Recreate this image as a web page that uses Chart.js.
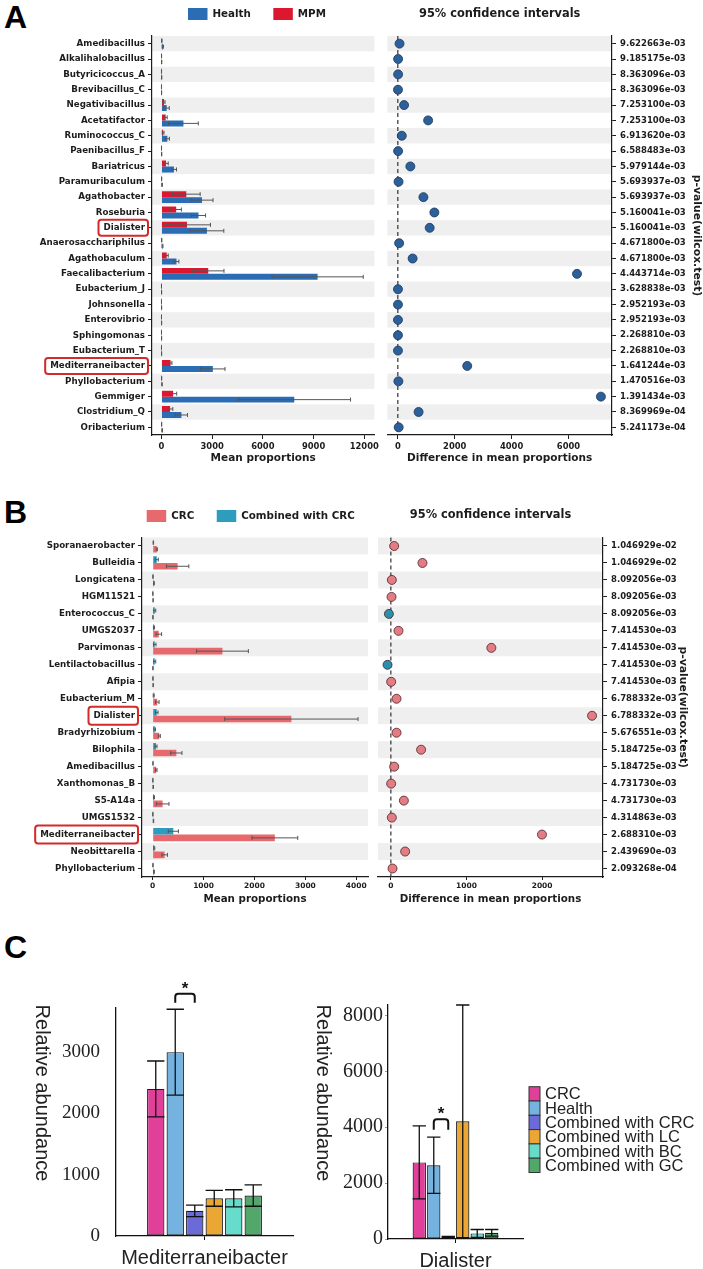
<!DOCTYPE html>
<html>
<head>
<meta charset="utf-8">
<title>Figura</title>
<script src="https://cdn.jsdelivr.net/npm/chart.js@4.4.1/dist/chart.umd.min.js"></script>
<style>
  html, body { margin: 0; padding: 0; background: #fff; }
  #fig { position: relative; width: 703px; height: 1269px; overflow: hidden; }
  #fig canvas { position: absolute; }
  .letra { position: absolute; font: bold 32px "Liberation Sans", Arial, sans-serif; line-height: 1; color: #000; }
</style>
</head>
<body>
<div id="fig">
  <div class="letra" style="left:4px;top:1px">A</div>
  <div class="letra" style="left:4px;top:496px">B</div>
  <div class="letra" style="left:4px;top:931px">C</div>
  <canvas id="aBarras" width="382" height="470" style="left:0;top:0"></canvas>
  <canvas id="aDif" width="321" height="470" style="left:382px;top:0"></canvas>
  <canvas id="bBarras" width="372" height="422" style="left:0;top:490px"></canvas>
  <canvas id="bDif" width="331" height="422" style="left:372px;top:490px"></canvas>
  <canvas id="cMedi" width="300" height="309" style="left:0;top:960px"></canvas>
  <canvas id="cDial" width="413" height="309" style="left:290px;top:960px"></canvas>
</div>
<script>
// ---------- datos panel A (Health vs MPM) ----------
const taxaA = ['Amedibacillus', 'Alkalihalobacillus', 'Butyricicoccus_A', 'Brevibacillus_C', 'Negativibacillus',
  'Acetatifactor', 'Ruminococcus_C', 'Paenibacillus_F', 'Bariatricus', 'Paramuribaculum', 'Agathobacter',
  'Roseburia', 'Dialister', 'Anaerosacchariphilus', 'Agathobaculum', 'Faecalibacterium', 'Eubacterium_J',
  'Johnsonella', 'Enterovibrio', 'Sphingomonas', 'Eubacterium_T', 'Mediterraneibacter', 'Phyllobacterium',
  'Gemmiger', 'Clostridium_Q', 'Oribacterium'];
const healthA    = [80, 12, 12, 8, 310, 1300, 350, 12, 740, 35, 2400, 2190, 2690, 60, 890, 9240, 8, 8, 8, 8, 8, 3040, 30, 7860, 1180, 40];
const healthErrA = [40, 8, 8, 5, 150, 880, 120, 8, 150, 20, 650, 420, 1000, 30, 140, 2700, 5, 5, 5, 5, 5, 720, 15, 3330, 360, 20];
const mpmA       = [20, 5, 3, 3, 150, 250, 100, 3, 270, 10, 1470, 870, 1510, 15, 310, 2770, 2, 2, 2, 2, 2, 540, 10, 690, 510, 10];
const mpmErrA    = [15, 3, 2, 2, 60, 90, 50, 2, 130, 5, 820, 310, 1390, 10, 90, 930, 1, 1, 1, 1, 1, 80, 5, 210, 160, 5];
const difA       = [60, 10, 10, 5, 220, 1065, 140, 10, 440, 25, 900, 1285, 1120, 46, 520, 6300, 5, 5, 5, 5, 5, 2440, 20, 7140, 730, 30];
const pvalA = ['9.622663e-03', '9.185175e-03', '8.363096e-03', '8.363096e-03', '7.253100e-03', '7.253100e-03',
  '6.913620e-03', '6.588483e-03', '5.979144e-03', '5.693937e-03', '5.693937e-03', '5.160041e-03', '5.160041e-03',
  '4.671800e-03', '4.671800e-03', '4.443714e-03', '3.628838e-03', '2.952193e-03', '2.952193e-03', '2.268810e-03',
  '2.268810e-03', '1.641244e-03', '1.470516e-03', '1.391434e-03', '8.369969e-04', '5.241173e-04'];
const ticksMediaA = [0, 3000, 6000, 9000, 12000];
const ticksDifA = [0, 2000, 4000, 6000];

// ---------- datos panel B (CRC vs Combined with CRC) ----------
const taxaB = ['Sporanaerobacter', 'Bulleidia', 'Longicatena', 'HGM11521', 'Enterococcus_C', 'UMGS2037',
  'Parvimonas', 'Lentilactobacillus', 'Afipia', 'Eubacterium_M', 'Dialister', 'Bradyrhizobium', 'Bilophila',
  'Amedibacillus', 'Xanthomonas_B', 'S5-A14a', 'UMGS1532', 'Mediterraneibacter', 'Neobittarella', 'Phyllobacterium'];
const combB    = [13, 80, 5, 3, 40, 25, 40, 40, 5, 20, 80, 40, 65, 5, 3, 25, 3, 405, 30, 5];
const combErrB = [5, 30, 3, 2, 20, 10, 25, 20, 3, 10, 25, 15, 20, 3, 2, 10, 2, 100, 10, 3];
const crcB     = [80, 490, 25, 8, 5, 120, 1370, 5, 10, 90, 2725, 130, 465, 70, 10, 195, 15, 2400, 235, 25];
const crcErrB  = [12, 220, 8, 3, 3, 55, 510, 3, 5, 35, 1310, 20, 110, 15, 5, 125, 5, 450, 55, 8];
const difB     = [44, 418, 13, 9, -26, 101, 1329, -44, 4, 75, 2660, 75, 400, 44, 4, 172, 13, 1998, 189, 22];
const pvalB = ['1.046929e-02', '1.046929e-02', '8.092056e-03', '8.092056e-03', '8.092056e-03', '7.414530e-03',
  '7.414530e-03', '7.414530e-03', '7.414530e-03', '6.788332e-03', '6.788332e-03', '5.676551e-03', '5.184725e-03',
  '5.184725e-03', '4.731730e-03', '4.731730e-03', '4.314863e-03', '2.688310e-03', '2.439690e-03', '2.093268e-04'];
const ticksMediaB = [0, 1000, 2000, 3000, 4000];
const ticksDifB = [0, 1000, 2000];

// ---------- datos panel C ----------
const gruposC = ['CRC', 'Health', 'Combined with CRC', 'Combined with LC', 'Combined with BC', 'Combined with GC'];
const mediMedia = [2400, 3000, 410, 615, 615, 660];
const mediDE    = [455, 700, 95, 130, 140, 175];
const dialMedia = [2740, 2640, 70, 4210, 200, 220];
const dialDE    = [1305, 1005, 25, 4160, 140, 120];
const ticksMedi = [0, 1000, 2000, 3000];
const ticksDial = [0, 2000, 4000, 6000, 8000];

const coloresC = ['#e0409a', '#74b2df', '#6a6ad8', '#eba633', '#66dccb', '#52a86a'];
const NEGRO = '#1c1c1c';

Chart.defaults.font.family = '"DejaVu Sans", sans-serif';
Chart.defaults.color = NEGRO;
Chart.defaults.animation = false;

const fuenteB = size => ({ family: '"DejaVu Sans"', size: size, weight: 'bold' });

// franjas grises alternas
const franjas = {
  id: 'franjas',
  beforeDraw(chart) {
    const { ctx, chartArea: a, scales: { y } } = chart;
    const n = y.getLabels().length;
    const h = a.height / n;
    ctx.save();
    ctx.fillStyle = '#efefef';
    for (let i = 0; i < n; i += 2) {
      const c = y.getPixelForValue(i);
      ctx.fillRect(a.left, c - h / 2, a.width, h);
    }
    ctx.restore();
  }
};

// barras de error (horizontales o verticales)
const barrasError = {
  id: 'barrasError',
  afterDatasetsDraw(chart, args, o) {
    const ctx = chart.ctx;
    const horiz = chart.options.indexAxis === 'y';
    const escala = horiz ? chart.scales.x : chart.scales.y;
    chart.data.datasets.forEach((ds, i) => {
      if (!ds.errores) return;
      const meta = chart.getDatasetMeta(i);
      ctx.save();
      ctx.strokeStyle = o.color || '#555';
      ctx.lineWidth = o.width || 1;
      meta.data.forEach((el, j) => {
        const v = ds.data[j], e = ds.errores[j];
        const lo = escala.getPixelForValue(v - e);
        const hi = escala.getPixelForValue(v + e);
        ctx.beginPath();
        if (horiz) {
          const c = o.cap || 2;
          ctx.moveTo(lo, el.y); ctx.lineTo(hi, el.y);
          ctx.moveTo(lo, el.y - c); ctx.lineTo(lo, el.y + c);
          ctx.moveTo(hi, el.y - c); ctx.lineTo(hi, el.y + c);
        } else {
          const c = el.width / 2;
          ctx.moveTo(el.x, lo); ctx.lineTo(el.x, hi);
          ctx.moveTo(el.x - c, lo); ctx.lineTo(el.x + c, lo);
          ctx.moveTo(el.x - c, hi); ctx.lineTo(el.x + c, hi);
        }
        ctx.stroke();
      });
      ctx.restore();
    });
  }
};

// recuadro rojo sobre etiquetas destacadas
const recuadros = {
  id: 'recuadros',
  afterDraw(chart, args, o) {
    if (!o.nombres) return;
    const { ctx, scales: { y } } = chart;
    ctx.save();
    ctx.font = o.font;
    ctx.strokeStyle = '#d42a2a';
    ctx.lineWidth = 2;
    const der = chart.chartArea.left - 7;
    o.nombres.forEach(n => {
      const i = y.getLabels().indexOf(n);
      if (i < 0) return;
      const yc = y.getPixelForValue(i);
      const w = ctx.measureText(n).width;
      ctx.beginPath();
      if (ctx.roundRect) ctx.roundRect(der - w - 5, yc - o.alto / 2, w + 8, o.alto, 3);
      else ctx.rect(der - w - 5, yc - o.alto / 2, w + 8, o.alto);
      ctx.stroke();
    });
    ctx.restore();
  }
};

// leyenda superior de A y B
const leyendaSup = {
  id: 'leyendaSup',
  afterDraw(chart, args, o) {
    if (!o.items) return;
    const ctx = chart.ctx;
    ctx.save();
    ctx.font = 'bold 10.3px "DejaVu Sans"';
    ctx.textBaseline = 'middle';
    let x = o.x;
    o.items.forEach(it => {
      ctx.fillStyle = it.color;
      ctx.fillRect(x, o.y - 6, 19.5, 12);
      x += 24.5;
      ctx.fillStyle = NEGRO;
      ctx.fillText(it.texto, x, o.y + 0.5);
      x += ctx.measureText(it.texto).width + 22.5;
    });
    ctx.restore();
  }
};

// titulo centrado sobre el area del grafico
const tituloSup = {
  id: 'tituloSup',
  afterDraw(chart, args, o) {
    if (!o.texto) return;
    const { ctx, chartArea: a } = chart;
    ctx.save();
    ctx.font = 'bold 11.4px "DejaVu Sans"';
    ctx.fillStyle = NEGRO;
    ctx.textAlign = 'center';
    ctx.textBaseline = 'middle';
    ctx.fillText(o.texto, (a.left + a.right) / 2, o.y);
    ctx.restore();
  }
};

// linea discontinua en cero
const lineaCero = {
  id: 'lineaCero',
  beforeDatasetsDraw(chart) {
    const { ctx, chartArea: a, scales: { x } } = chart;
    const px = x.getPixelForValue(0);
    ctx.save();
    ctx.setLineDash([4, 3]);
    ctx.strokeStyle = '#333';
    ctx.lineWidth = 1.2;
    ctx.beginPath();
    ctx.moveTo(px, a.top);
    ctx.lineTo(px, a.bottom);
    ctx.stroke();
    ctx.restore();
  }
};

// corchete de significancia
const corchete = {
  id: 'corchete',
  afterDraw(chart, args, o) {
    if (!o.par) return;
    const { ctx, scales: { y } } = chart;
    const a = chart.getDatasetMeta(o.par[0]).data[0];
    const b = chart.getDatasetMeta(o.par[1]).data[0];
    const yt = y.getPixelForValue(o.arriba), yp = y.getPixelForValue(o.pata);
    ctx.save();
    ctx.strokeStyle = '#111';
    ctx.lineWidth = 2;
    ctx.lineJoin = 'round';
    ctx.beginPath();
    ctx.moveTo(a.x, yp);
    ctx.arcTo(a.x, yt, b.x, yt, 3);
    ctx.arcTo(b.x, yt, b.x, yp, 3);
    ctx.lineTo(b.x, yp);
    ctx.stroke();
    ctx.fillStyle = '#111';
    ctx.font = 'bold 17px "Liberation Sans"';
    ctx.textAlign = 'center';
    ctx.textBaseline = 'alphabetic';
    ctx.fillText('*', (a.x + b.x) / 2, yt);
    ctx.restore();
  }
};

// titulo del eje y girado (lectura de arriba abajo)
const tituloLado = {
  id: 'tituloLado',
  afterDraw(chart, args, o) {
    if (!o.texto) return;
    const ctx = chart.ctx;
    ctx.save();
    ctx.translate(o.x, o.y);
    ctx.rotate(Math.PI / 2);
    ctx.font = '20px "Liberation Sans"';
    ctx.fillStyle = '#222';
    ctx.textAlign = 'center';
    ctx.textBaseline = 'middle';
    ctx.fillText(o.texto, 0, 0);
    ctx.restore();
  }
};

// leyenda lateral del panel C
const leyendaLado = {
  id: 'leyendaLado',
  afterDraw(chart, args, o) {
    if (!o.x) return;
    const ctx = chart.ctx;
    ctx.save();
    ctx.font = '16.5px "Liberation Sans"';
    ctx.textBaseline = 'middle';
    chart.data.datasets.forEach((ds, i) => {
      const y = o.y + i * o.fila;
      ctx.fillStyle = ds.backgroundColor;
      ctx.fillRect(o.x, y, 11, o.fila);
      ctx.strokeStyle = '#333';
      ctx.lineWidth = 1;
      ctx.strokeRect(o.x, y, 11, o.fila);
      ctx.fillStyle = '#222';
      ctx.fillText(ds.label, o.x + 16, y + o.fila / 2 + 1);
    });
    ctx.restore();
  }
};

function panelBarras(id, o) {
  return new Chart(document.getElementById(id), {
    type: 'bar',
    data: { labels: o.taxa, datasets: o.series },
    options: {
      indexAxis: 'y',
      responsive: false,
      layout: { padding: { top: o.top, right: 4, left: 0, bottom: 0 } },
      plugins: {
        legend: { display: false },
        tooltip: { enabled: false },
        barrasError: { color: '#555', cap: 2, width: 1 },
        recuadros: { nombres: ['Dialister', 'Mediterraneibacter'], font: 'bold 8.7px "DejaVu Sans"', alto: o.alto },
        leyendaSup: o.leyenda
      },
      scales: {
        x: {
          min: o.min, max: o.max,
          afterBuildTicks: s => { s.ticks = o.ticks.map(v => ({ value: v })); },
          afterFit: s => { s.height = o.xh; },
          grid: { drawOnChartArea: false, tickLength: o.tl, tickColor: NEGRO },
          border: { color: NEGRO, width: 1.2 },
          ticks: { font: fuenteB(o.tickSize), padding: o.tp, color: NEGRO, maxRotation: 0, callback: v => String(v) },
          title: { display: true, text: 'Mean proportions', font: fuenteB(o.tituloSize), color: NEGRO, padding: { top: 0, bottom: o.tituloPad } }
        },
        y: {
          afterFit: s => { s.width = o.yw; },
          grid: { drawOnChartArea: false, offset: false, tickLength: 4, tickColor: NEGRO },
          border: { color: NEGRO, width: 1.2 },
          ticks: { autoSkip: false, font: fuenteB(8.7), padding: 3, color: NEGRO }
        }
      }
    },
    plugins: [franjas, barrasError, recuadros, leyendaSup]
  });
}

function panelDif(id, o) {
  return new Chart(document.getElementById(id), {
    type: 'scatter',
    data: {
      datasets: [{
        data: o.taxa.map((t, i) => ({ x: o.dif[i], y: t })),
        backgroundColor: o.colores,
        borderColor: o.borde,
        borderWidth: 0.8,
        pointRadius: 4.5
      }]
    },
    options: {
      responsive: false,
      layout: { padding: { top: o.top, left: o.left, right: 0, bottom: 0 } },
      plugins: {
        legend: { display: false },
        tooltip: { enabled: false },
        tituloSup: { texto: '95% confidence intervals', y: o.tituloY }
      },
      scales: {
        x: {
          type: 'linear', min: o.min, max: o.max,
          afterBuildTicks: s => { s.ticks = o.ticks.map(v => ({ value: v })); },
          afterFit: s => { s.height = o.xh; },
          grid: { drawOnChartArea: false, tickLength: o.tl, tickColor: NEGRO },
          border: { color: NEGRO, width: 1.2 },
          ticks: { font: fuenteB(o.tickSize), padding: o.tp, color: NEGRO, maxRotation: 0, callback: v => String(v) },
          title: { display: true, text: 'Difference in mean proportions', font: fuenteB(o.tituloSize), color: NEGRO, padding: { top: 0, bottom: o.tituloPad } }
        },
        y: {
          type: 'category', labels: o.taxa, offset: true, position: 'right',
          afterFit: s => { s.width = o.yw; },
          grid: { drawOnChartArea: false, offset: false, tickLength: 4, tickColor: NEGRO },
          border: { color: NEGRO, width: 1.2 },
          ticks: { autoSkip: false, font: fuenteB(8.5), padding: 4, color: NEGRO, callback: (v, i) => o.pval[i] },
          title: { display: true, text: 'p-value(wilcox.test)', font: fuenteB(10.8), color: NEGRO, padding: { top: o.pPad, bottom: 0 } }
        }
      }
    },
    plugins: [franjas, lineaCero, tituloSup]
  });
}

function panelC(id, o) {
  return new Chart(document.getElementById(id), {
    type: 'bar',
    data: {
      labels: [o.taxon],
      datasets: gruposC.map((g, i) => ({
        label: g,
        data: [o.medias[i]],
        errores: [o.de[i]],
        backgroundColor: coloresC[i],
        borderColor: '#1a1a1a',
        borderWidth: 1.2,
        borderSkipped: false,
        categoryPercentage: o.cat,
        barPercentage: o.bar
      }))
    },
    options: {
      responsive: false,
      layout: { padding: { top: o.top, right: o.right, left: 0, bottom: 0 } },
      plugins: {
        legend: { display: false },
        tooltip: { enabled: false },
        barrasError: { color: '#111', width: 1.3 },
        corchete: o.corchete,
        tituloLado: o.tituloLado,
        leyendaLado: o.leyendaLado || {}
      },
      scales: {
        x: {
          afterFit: s => { s.height = o.xh; },
          grid: { drawOnChartArea: false, offset: false, tickLength: 4, tickColor: '#111' },
          border: { color: '#111', width: 1.3 },
          ticks: { font: { family: '"Liberation Sans"', size: 20, weight: 'normal' }, color: '#222', padding: 6 }
        },
        y: {
          min: 0, max: o.max,
          afterBuildTicks: s => { s.ticks = o.ticks.map(v => ({ value: v })); },
          afterFit: s => { s.width = o.yw; },
          grid: { drawOnChartArea: false, drawTicks: o.marcas, tickLength: 3, tickColor: '#999' },
          border: { color: '#111', width: 1.3 },
          ticks: { font: { family: '"Liberation Serif"', size: o.tickSize, weight: 'normal' }, color: '#222', padding: o.tp, callback: v => String(v) }
        }
      }
    },
    plugins: [barrasError, corchete, tituloLado, leyendaLado]
  });
}

document.addEventListener('DOMContentLoaded', () => {
  // A
  panelBarras('aBarras', {
    taxa: taxaA, top: 36, yw: 152, xh: 35, min: -560, max: 12600, ticks: ticksMediaA,
    tl: 4, tp: 3, tickSize: 8.4, tituloSize: 10.5, tituloPad: 5.7, alto: 16,
    leyenda: { x: 188, y: 14, items: [{ texto: 'Health', color: '#2a6db5' }, { texto: 'MPM', color: '#dc1830' }] },
    series: [
      { label: 'MPM', data: mpmA, errores: mpmErrA, backgroundColor: '#dc1830', categoryPercentage: 0.78, barPercentage: 1 },
      { label: 'Health', data: healthA, errores: healthErrA, backgroundColor: '#2a6db5', categoryPercentage: 0.78, barPercentage: 1 }
    ]
  });
  panelDif('aDif', {
    taxa: taxaA, dif: difA, pval: pvalA, top: 36, left: 5, yw: 91, xh: 35, min: -370, max: 7530,
    ticks: ticksDifA, tl: 4, tp: 3, tickSize: 8.4, tituloSize: 10.5, tituloPad: 5.7, pPad: 0, tituloY: 14,
    colores: '#2d6098', borde: '#16375e'
  });

  // B
  panelBarras('bBarras', {
    taxa: taxaB, top: 47.5, yw: 142, xh: 35, min: -210, max: 4230, ticks: ticksMediaB,
    tl: 3, tp: 2, tickSize: 7.5, tituloSize: 10.3, tituloPad: 6.8, alto: 18,
    leyenda: { x: 146.7, y: 26, items: [{ texto: 'CRC', color: '#e8696d' }, { texto: 'Combined with CRC', color: '#2e9cbf' }] },
    series: [
      { label: 'Combined with CRC', data: combB, errores: combErrB, backgroundColor: '#2e9cbf', categoryPercentage: 0.78, barPercentage: 1 },
      { label: 'CRC', data: crcB, errores: crcErrB, backgroundColor: '#e8696d', categoryPercentage: 0.78, barPercentage: 1 }
    ]
  });
  panelDif('bDif', {
    taxa: taxaB, dif: difB, pval: pvalB, top: 47.5, left: 6, yw: 100, xh: 35, min: -170, max: 2805,
    ticks: ticksDifB, tl: 3, tp: 2, tickSize: 7.5, tituloSize: 10.3, tituloPad: 6.8, pPad: 13.5, tituloY: 25,
    colores: difB.map(d => d < 0 ? '#2b8fae' : '#e37d83'), borde: '#4a2226'
  });

  // C
  panelC('cMedi', {
    taxon: 'Mediterraneibacter', medias: mediMedia, de: mediDE, max: 3720, ticks: ticksMedi,
    top: 48, right: 7, yw: 116, xh: 33, cat: 0.661, bar: 0.89, marcas: false, tickSize: 19, tp: 16,
    corchete: { par: [1, 2], arriba: 3954, pata: 3807 },
    tituloLado: { texto: 'Relative abundance', x: 42, y: 133 }
  });
  panelC('cDial', {
    taxon: 'Dialister', medias: dialMedia, de: dialDE, max: 8370, ticks: ticksDial,
    top: 45, right: 180, yw: 98, xh: 30, cat: 0.644, bar: 0.92, marcas: true, tickSize: 20, tp: 2,
    corchete: { par: [1, 2], arriba: 4286, pata: 3904 },
    tituloLado: { texto: 'Relative abundance', x: 33, y: 133 },
    leyendaLado: { x: 239, y: 126.7, fila: 14.3 }
  });
});
</script>
</body>
</html>
